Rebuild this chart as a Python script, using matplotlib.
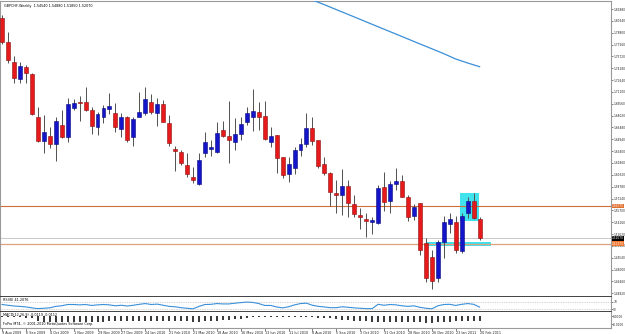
import matplotlib
matplotlib.use("Agg")
import matplotlib.pyplot as plt
import numpy as np

# ---------------------------------------------------------------------------
# Data (GBPCHF weekly)
# ---------------------------------------------------------------------------
date_labels = ["9 Aug 2009", "6 Sep 2009", "4 Oct 2009", "1 Nov 2009", "29 Nov 2009",
               "27 Dec 2009", "24 Jan 2010", "21 Feb 2010", "21 Mar 2010", "18 Apr 2010",
               "16 May 2010", "13 Jun 2010", "11 Jul 2010", "8 Aug 2010", "5 Sep 2010",
               "3 Oct 2010", "31 Oct 2010", "28 Nov 2010", "26 Dec 2010", "23 Jan 2011",
               "20 Feb 2011"]

opens = [1.8067, 1.7765, 1.7499, 1.7282, 1.7430, 1.7343, 1.6788, 1.6476, 1.6537, 1.6429,
         1.6680, 1.6528, 1.6897, 1.6983, 1.6979, 1.6875, 1.6658, 1.6780, 1.6884, 1.6832,
         1.6628, 1.6780, 1.6520, 1.6788, 1.6832, 1.6979, 1.6832, 1.6953, 1.6702, 1.6368,
         1.6325, 1.6165, 1.6010, 1.5909, 1.6312, 1.6368, 1.6333, 1.6615, 1.6537, 1.6463,
         1.6559, 1.6715, 1.6780, 1.6853, 1.6801, 1.6463, 1.6550, 1.6260, 1.6039, 1.6125,
         1.6355, 1.6433, 1.6645, 1.6485, 1.6169, 1.6060, 1.5792, 1.5770, 1.5891, 1.5649,
         1.5510, 1.5454, 1.5415, 1.5402, 1.5870, 1.5692, 1.5909, 1.5956, 1.5740, 1.5501,
         1.5662, 1.5146, 1.4964, 1.4691, 1.5163, 1.5389, 1.5415, 1.5046, 1.5532, 1.5696,
         1.5454]
highs = [1.8110, 1.7885, 1.7581, 1.7495, 1.7460, 1.7350, 1.6918, 1.6810, 1.6658, 1.6780,
         1.6875, 1.7027, 1.7018, 1.7057, 1.7178, 1.6910, 1.6853, 1.6940, 1.7092, 1.6962,
         1.6832, 1.6795, 1.6788, 1.7113, 1.7178, 1.7079, 1.7027, 1.7005, 1.6810, 1.6411,
         1.6355, 1.6312, 1.6138, 1.6312, 1.6593, 1.6485, 1.6723, 1.6736, 1.6992, 1.6775,
         1.6780, 1.6914, 1.7144, 1.6983, 1.6992, 1.6658, 1.6555, 1.6265, 1.6260, 1.6390,
         1.6515, 1.6840, 1.6780, 1.6490, 1.6260, 1.6065, 1.5965, 1.6104, 1.5965, 1.5770,
         1.5597, 1.5540, 1.5488, 1.5900, 1.6065, 1.5956, 1.6117, 1.6030, 1.5770, 1.5653,
         1.5665, 1.5211, 1.5055, 1.5185, 1.5501, 1.5540, 1.5497, 1.5532, 1.5748, 1.5800,
         1.5488]
lows = [1.7729, 1.7482, 1.7222, 1.7222, 1.7230, 1.6810, 1.6463, 1.6320, 1.6377, 1.6216,
        1.6507, 1.6463, 1.6875, 1.6736, 1.6866, 1.6563, 1.6550, 1.6702, 1.6823, 1.6585,
        1.6520, 1.6463, 1.6411, 1.6780, 1.6810, 1.6819, 1.6667, 1.6715, 1.6407, 1.6086,
        1.6160, 1.6008, 1.5930, 1.5900, 1.6268, 1.6277, 1.6320, 1.6528, 1.6190, 1.6355,
        1.6485, 1.6680, 1.6606, 1.6615, 1.6485, 1.6390, 1.6052, 1.5987, 1.5943, 1.6043,
        1.6277, 1.6390, 1.6420, 1.6117, 1.6030, 1.5631, 1.5532, 1.5510, 1.5488, 1.5488,
        1.5324, 1.5220, 1.5263, 1.5393, 1.5566, 1.5532, 1.5835, 1.5740, 1.5436, 1.5445,
        1.4990, 1.4639, 1.4548, 1.4639, 1.4947, 1.5280, 1.5012, 1.5012, 1.5467, 1.5454,
        1.5185]
closes = [1.7763, 1.7525, 1.7295, 1.7443, 1.7352, 1.6819, 1.6472, 1.6585, 1.6429, 1.6732,
          1.6528, 1.6953, 1.6970, 1.6962, 1.6875, 1.6667, 1.6823, 1.6897, 1.6927, 1.6650,
          1.6788, 1.6485, 1.6758, 1.6845, 1.7018, 1.6845, 1.6953, 1.6723, 1.6450, 1.6346,
          1.6182, 1.6039, 1.5965, 1.6225, 1.6463, 1.6398, 1.6572, 1.6541, 1.6485, 1.6563,
          1.6693, 1.6832, 1.6866, 1.6788, 1.6502, 1.6537, 1.6247, 1.6030, 1.6169, 1.6355,
          1.6433, 1.6645, 1.6476, 1.6151, 1.6060, 1.5813, 1.5766, 1.5887, 1.5662, 1.5519,
          1.5488, 1.5436, 1.5445, 1.5857, 1.5675, 1.5913, 1.5956, 1.5748, 1.5480, 1.5618,
          1.5055, 1.4691, 1.4652, 1.5159, 1.5415, 1.5454, 1.5055, 1.5501, 1.5696, 1.5467,
          1.5207]

# long moving average, visible only in the top right corner
ma_idx = [52, 54, 56, 58, 60, 62, 64, 66, 68, 70, 72, 74, 76, 78, 80]
ma_vals = [1.8305, 1.8244, 1.8180, 1.8117, 1.8053, 1.7989, 1.7925, 1.7862, 1.7798,
           1.7734, 1.7671, 1.7607, 1.7538, 1.7486, 1.7438]

rsi = [55, 51, 47, 45, 42, 37, 33, 35, 37, 45, 48, 55, 55, 53, 55, 50, 53, 55, 53, 48,
       51, 47, 51, 56, 60, 55, 57, 51, 45, 43, 38, 35, 32, 45, 55, 56, 60, 58, 58, 62,
       65, 68, 66, 60, 50, 50, 42, 37, 43, 53, 60, 62, 51, 45, 42, 38, 38, 43, 40, 37,
       35, 33, 33, 56, 51, 55, 53, 48, 45, 48, 40, 35, 32, 48, 55, 56, 50, 56, 60, 56,
       41]

macd = [-0.0006, -0.0006, -0.0012, -0.0012, -0.0018, -0.0024, -0.0060, -0.0066, -0.0072,
        -0.0072, -0.0072, -0.0072, -0.0072, -0.0072, -0.0072, -0.0066, -0.0066, -0.0066,
        -0.0060, -0.0060, -0.0060, -0.0060, -0.0060, -0.0060, -0.0054, -0.0054, -0.0054,
        -0.0054, -0.0054, -0.0060, -0.0060, -0.0060, -0.0066, -0.0066, -0.0060, -0.0060,
        -0.0054, -0.0048, -0.0042, -0.0036, -0.0030, -0.0018, -0.0012, -0.0012, -0.0012,
        -0.0012, -0.0012, -0.0012, -0.0012, -0.0012, -0.0012, -0.0012, -0.0012, -0.0018,
        -0.0018, -0.0024, -0.0036, -0.0042, -0.0048, -0.0054, -0.0060, -0.0060, -0.0066,
        -0.0066, -0.0066, -0.0066, -0.0066, -0.0066, -0.0066, -0.0066, -0.0072, -0.0078,
        -0.0078, -0.0072, -0.0072, -0.0066, -0.0060, -0.0054, -0.0054, -0.0054, -0.0054]

# horizontal levels and highlighted zones
level_upper = 1.5627
level_lower = 1.5137
bid_price = 1.5207
zone_box = (76.8, 79.9, 1.5436, 1.5792)    # x0, x1, y0, y1
zone_bar = (71.1, 81.9, 1.5111, 1.5163)

# ---------------------------------------------------------------------------
W, H = 625, 334
COL_BULL = "#1414c8"
COL_BEAR = "#e61a1a"
COL_WICK = "#505050"
COL_CYAN = "#40e2ee"
TXT = 2.4
TXT_AX = 2.1

fig = plt.figure(figsize=(W / 100, H / 100), dpi=100)
fig.patch.set_facecolor("white")


def px_axes(x0, y0, x1, y1):
    return fig.add_axes([x0 / W, 1 - y1 / H, (x1 - x0) / W, (y1 - y0) / H])


ax = px_axes(0, 1, 611, 297)
ax_rsi = px_axes(0, 297, 611, 312)
ax_macd = px_axes(0, 312, 611, 328)

n = len(closes)
idx = np.arange(n)
step = 5.97
xlim = (-2 / step, (611 - 2) / step)

for a in (ax, ax_rsi, ax_macd):
    a.set_xlim(*xlim)
    a.set_facecolor("white")
    a.yaxis.tick_right()
    a.tick_params(axis="y", length=1.2, width=0.4, labelsize=TXT_AX, pad=0.4, colors="#222")
    a.tick_params(axis="x", length=0, labelbottom=False)
    for s in a.spines.values():
        s.set_color("#9a9a9a")
        s.set_linewidth(0.8)

# --- main candle panel ---
ax.set_ylim(1.4444, 1.8292)
yt = [1.8188 - 0.0154 * k for k in range(25)]
ax.set_yticks(yt)
ax.set_yticklabels([f"{v:.5f}" for v in yt])
ax.spines["bottom"].set_color("#222")
ax.spines["bottom"].set_linewidth(1.2)

# highlighted zones under the candles
ax.fill_between([zone_box[0], zone_box[1]], zone_box[2], zone_box[3],
                color=COL_CYAN, lw=0, zorder=1)
ax.fill_between([zone_bar[0], zone_bar[1]], zone_bar[2], zone_bar[3],
                color=COL_CYAN, lw=0, zorder=1)

ax.axhline(level_upper, color="#cf6d38", lw=0.8, zorder=2)
ax.axhline(level_lower, color="#dca27e", lw=0.9, zorder=2)
ax.axhline(bid_price, color="#c8c8c8", lw=0.7, zorder=2)

o = np.array(opens)
c = np.array(closes)
up = c >= o
ax.vlines(idx, lows, highs, color=COL_WICK, lw=0.7, zorder=3)
body_lo = np.minimum(o, c)
body_h = np.maximum(np.abs(c - o), 0.0006)
ax.bar(idx[up], body_h[up], bottom=body_lo[up], width=0.66,
       color=COL_BULL, edgecolor="#0a0a80", lw=0.4, zorder=4)
ax.bar(idx[~up], body_h[~up], bottom=body_lo[~up], width=0.66,
       color=COL_BEAR, edgecolor="#8a1010", lw=0.4, zorder=4)

ax.plot(ma_idx, ma_vals, color="#3a8fd8", lw=0.9, zorder=3)

# price tags on the right scale
for price, fc, tc in ((level_upper, "#e0702e", "white"),
                      (bid_price, "black", "white"),
                      (level_lower, "#f07830", "white")):
    ax.annotate(f"{price:.5f}", xy=(1.0, price), xycoords=("axes fraction", "data"),
                xytext=(0.8, 0), textcoords="offset points", fontsize=TXT_AX,
                color=tc, va="center", ha="left", annotation_clip=False,
                bbox=dict(boxstyle="square,pad=0.12", fc=fc, ec="none"))

fig.text(4 / W, 1 - 6 / H, "GBPCHF,Weekly  1.54540 1.54880 1.51850 1.52070",
         fontsize=TXT, va="center", ha="left", color="black")

# --- RSI panel ---
ax_rsi.set_ylim(15, 95)
ax_rsi.set_yticks([70, 30])
ax_rsi.set_yticklabels(["70", "30"])
ax_rsi.axhline(70, color="#aaaaaa", lw=0.5, ls=(0, (1, 1.5)))
ax_rsi.axhline(30, color="#aaaaaa", lw=0.5, ls=(0, (1, 1.5)))
ax_rsi.plot(idx, rsi, color="#3a8fd8", lw=0.8)
ax_rsi.spines["bottom"].set_color("#222")
ax_rsi.spines["bottom"].set_linewidth(1.2)
ax_rsi.spines["top"].set_visible(False)
fig.text(3 / W, 1 - 300 / H, "RSI(8) 41.2076", fontsize=TXT, va="center", ha="left")

# --- MACD panel ---
ax_macd.set_ylim(-0.0144, 0.0048)
ax_macd.set_yticks([0.0, -0.01])
ax_macd.set_yticklabels(["0.0000", "-0.0100"])
ax_macd.vlines(idx, 0, macd, color="black", lw=1.1)
ax_macd.spines["top"].set_visible(False)
ax_macd.set_xticks(idx[::4])
ax_macd.set_xticklabels(date_labels)
ax_macd.tick_params(axis="x", length=2, width=0.4, labelbottom=True, labelsize=TXT,
                    pad=0.5, colors="#222")
for lab in ax_macd.get_xticklabels():
    lab.set_horizontalalignment("left")
fig.text(3 / W, 1 - 314.5 / H, "MACD(12,26,9) -0.0119 -0.0112", fontsize=TXT,
         va="center", ha="left")
fig.text(3 / W, 1 - 324 / H, "FxPro MT4, \u00a9 2001-2010 MetaQuotes Software Corp.",
         fontsize=TXT, va="center", ha="left")

fig.savefig("out.png", dpi=100, facecolor="white")
